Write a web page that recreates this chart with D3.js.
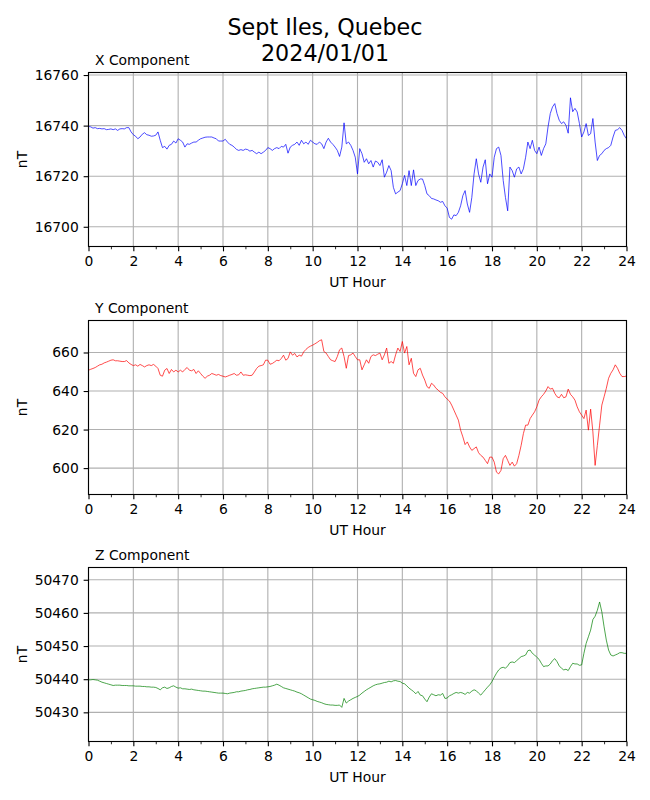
<!DOCTYPE html>
<html>
<head>
<meta charset="utf-8">
<script src="https://cdn.jsdelivr.net/npm/d3@7"></script>
<style>
  html, body { margin: 0; padding: 0; background: #fff; }
  svg { display: block; font-family: "DejaVu Sans", sans-serif; }
</style>
</head>
<body>
<svg id="chart" width="650" height="800"></svg>
<script>
// one sample every 6 minutes, 0..24 UT
const HOURS = d3.range(241).map(i => i / 10);

const X_VALUES = [
  16739.7, 16739.5, 16739.0, 16739.2, 16738.8, 16738.9, 16738.7, 16738.8, 16738.4, 16738.5,
  16738.7, 16738.4, 16738.7, 16738.1, 16738.7, 16738.8, 16738.7, 16739.2, 16739.2, 16737.5,
  16736.4, 16735.8, 16734.8, 16735.5, 16736.6, 16737.2, 16736.4, 16736.2, 16735.8, 16735.9,
  16736.2, 16737.5, 16734.2, 16731.3, 16731.8, 16730.7, 16732.2, 16732.6, 16733.9, 16733.1,
  16734.8, 16734.2, 16733.5, 16731.5, 16732.8, 16732.6, 16733.1, 16733.5, 16733.5, 16734.2,
  16734.8, 16735.1, 16735.4, 16735.5, 16735.5, 16735.5, 16735.1, 16734.8, 16733.9, 16733.9,
  16733.9, 16734.6, 16733.5, 16732.6, 16732.2, 16731.5, 16730.6, 16730.2, 16730.5, 16730.2,
  16730.7, 16730.5, 16729.9, 16730.2, 16729.5, 16728.9, 16729.5, 16728.9, 16729.5, 16730.2,
  16731.3, 16730.9, 16730.2, 16730.9, 16731.3, 16730.9, 16731.8, 16731.5, 16732.6, 16729.1,
  16731.5, 16732.2, 16732.6, 16733.5, 16732.2, 16734.2, 16732.8, 16733.5, 16732.6, 16734.2,
  16733.5, 16732.8, 16732.6, 16733.5, 16732.8, 16730.9, 16733.5, 16735.0, 16733.5, 16732.6,
  16731.5, 16730.2, 16727.8, 16731.5, 16741.1, 16732.8, 16733.5, 16732.2, 16730.2, 16727.5,
  16720.9, 16730.9, 16728.9, 16725.5, 16726.9, 16724.9, 16726.2, 16723.6, 16726.0, 16725.5,
  16724.2, 16726.5, 16719.6, 16721.6, 16724.2, 16722.2, 16715.6, 16713.0, 16713.7, 16714.3,
  16717.0, 16720.3, 16716.3, 16722.2, 16716.3, 16722.5, 16716.3, 16718.3, 16718.9, 16718.9,
  16716.3, 16713.0, 16712.3, 16711.2, 16711.0, 16710.6, 16710.3, 16709.7, 16710.0, 16708.3,
  16707.4, 16703.7, 16703.0, 16704.7, 16704.4, 16705.7, 16708.3, 16712.3, 16714.3, 16709.0,
  16705.7, 16711.6, 16720.9, 16726.9, 16720.9, 16717.6, 16723.6, 16726.5, 16717.0, 16720.9,
  16719.6, 16727.5, 16730.9, 16731.5, 16728.2, 16718.3, 16711.6, 16706.3, 16723.6, 16722.2,
  16719.6, 16722.9, 16723.6, 16720.9, 16722.9, 16727.5, 16733.5, 16730.9, 16734.2, 16730.2,
  16728.9, 16731.5, 16728.2, 16730.9, 16732.8, 16739.5, 16744.8, 16747.4, 16748.7, 16744.8,
  16742.1, 16740.8, 16741.5, 16740.1, 16737.0, 16751.0, 16745.5, 16746.8, 16745.4, 16740.8,
  16735.5, 16737.5, 16740.8, 16736.1, 16736.8, 16742.8, 16733.5, 16726.2, 16728.2, 16728.9,
  16730.2, 16730.9, 16731.3, 16732.2, 16735.5, 16738.1, 16738.4, 16739.2, 16738.1, 16736.1,
  16734.8
];

const Y_VALUES = [
  650.8, 651.3, 651.7, 652.2, 652.9, 653.6, 653.9, 654.6, 655.0, 655.5,
  656.0, 656.2, 655.7, 655.7, 655.5, 655.3, 655.3, 655.8, 654.6, 653.8,
  653.2, 653.6, 652.9, 653.8, 653.2, 652.5, 653.2, 653.6, 653.2, 653.8,
  652.9, 651.7, 648.2, 647.7, 650.8, 651.7, 649.1, 651.2, 649.9, 650.8,
  649.9, 650.8, 649.9, 651.2, 652.2, 650.8, 650.5, 651.2, 649.1, 650.5,
  649.1, 647.7, 646.6, 647.7, 648.2, 649.1, 648.7, 648.2, 648.6, 648.0,
  647.7, 647.3, 647.7, 648.2, 648.6, 649.1, 648.2, 648.4, 649.9, 648.2,
  648.4, 648.2, 648.0, 648.2, 649.9, 651.7, 652.9, 653.2, 653.6, 656.0,
  656.0, 653.9, 654.3, 655.1, 656.0, 655.7, 656.9, 658.6, 656.0, 656.9,
  660.3, 658.6, 659.5, 657.7, 658.6, 658.1, 660.3, 661.6, 662.6, 663.3,
  663.8, 664.5, 665.2, 666.1, 666.6, 660.5, 659.7, 657.9, 656.2, 655.7,
  655.3, 657.9, 661.4, 662.3, 657.9, 651.8, 658.4, 658.8, 659.7, 657.9,
  656.2, 656.2, 651.0, 653.6, 656.2, 654.4, 657.9, 658.8, 658.4, 659.1,
  659.7, 656.2, 658.8, 662.3, 654.4, 655.3, 654.4, 658.8, 662.3, 660.5,
  665.7, 659.7, 663.1, 653.6, 657.0, 649.2, 647.5, 651.0, 651.8, 648.3,
  645.7, 642.3, 641.4, 644.0, 643.1, 641.4, 640.5, 639.3, 638.8, 637.0,
  635.8, 634.8, 632.7, 630.1, 627.5, 624.9, 619.7, 616.2, 612.2, 613.6,
  611.0, 609.2, 610.1, 611.0, 608.0, 606.6, 605.7, 604.0, 602.3, 605.7,
  605.7, 603.1, 597.9, 597.0, 598.8, 604.9, 606.6, 604.0, 601.4, 603.1,
  601.0, 602.3, 606.6, 611.8, 617.9, 622.3, 622.3, 625.7, 627.5, 629.2,
  631.8, 635.3, 637.0, 638.3, 640.0, 642.3, 641.0, 641.4, 638.8, 637.0,
  636.5, 638.3, 636.5, 637.0, 641.0, 638.3, 637.0, 635.3, 631.8, 629.2,
  627.5, 625.7, 630.1, 619.7, 630.6, 618.8, 601.4, 611.8, 622.3, 632.7,
  637.0, 641.4, 646.6, 649.2, 651.0, 653.6, 651.8, 649.2, 647.5, 647.5,
  647.8
];

const Z_VALUES = [
  50439.8, 50439.8, 50439.9, 50439.8, 50439.7, 50439.4, 50439.1, 50438.9, 50438.7, 50438.5,
  50438.3, 50438.1, 50438.2, 50438.2, 50438.2, 50438.1, 50438.1, 50438.1, 50438.0, 50438.0,
  50438.0, 50437.9, 50437.9, 50437.9, 50437.8, 50437.8, 50437.7, 50437.7, 50437.6, 50437.6,
  50437.5, 50437.2, 50436.8, 50437.4, 50437.6, 50437.2, 50437.4, 50437.8, 50438.0, 50437.6,
  50437.3, 50437.4, 50437.1, 50437.1, 50437.0, 50436.9, 50437.0, 50436.8, 50436.7, 50436.6,
  50436.5, 50436.4, 50436.4, 50436.3, 50436.2, 50436.1, 50436.0, 50435.9, 50435.8, 50435.8,
  50435.8, 50435.7, 50435.6, 50435.8, 50435.9, 50436.0, 50436.2, 50436.2, 50436.4, 50436.5,
  50436.6, 50436.8, 50436.9, 50437.1, 50437.2, 50437.3, 50437.4, 50437.5, 50437.6, 50437.6,
  50437.7, 50437.8, 50438.0, 50438.2, 50438.5, 50438.2, 50437.8, 50437.4, 50437.2, 50437.0,
  50436.8, 50436.6, 50436.4, 50436.1, 50435.9, 50435.6, 50435.2, 50434.8, 50434.4, 50434.0,
  50433.8, 50433.6, 50433.3, 50433.1, 50432.9, 50432.6, 50432.4, 50432.3, 50432.2, 50432.2,
  50432.1, 50432.1, 50432.2, 50431.5, 50434.2, 50432.8, 50433.4, 50433.8, 50434.2, 50434.5,
  50434.8, 50435.2, 50435.8, 50436.3, 50436.8, 50437.2, 50437.6, 50438.0, 50438.3, 50438.5,
  50438.6, 50438.8, 50439.0, 50439.1, 50439.4, 50439.2, 50439.5, 50439.6, 50439.4, 50439.3,
  50438.8, 50438.6, 50438.0, 50437.3, 50436.8, 50436.3, 50435.6, 50436.3, 50435.2, 50435.0,
  50434.0, 50433.2, 50434.6, 50435.6, 50435.3, 50435.0, 50435.3, 50435.2, 50435.7, 50434.2,
  50434.3, 50435.0, 50435.3, 50435.7, 50436.0, 50435.8, 50436.0, 50435.8, 50435.4, 50436.0,
  50435.8, 50436.4, 50436.8, 50436.5, 50435.8, 50435.2, 50436.0, 50436.8, 50437.6, 50438.3,
  50439.3, 50440.6, 50441.8, 50442.8, 50443.4, 50443.6, 50443.3, 50444.0, 50445.0, 50445.2,
  50445.0, 50445.6, 50446.2, 50446.8, 50447.0, 50447.3, 50448.6, 50448.8, 50447.8, 50447.3,
  50446.6, 50446.0, 50444.8, 50443.8, 50444.0, 50444.0, 50444.6, 50445.6, 50446.2, 50445.3,
  50444.0, 50443.3, 50442.8, 50443.0, 50442.6, 50443.8, 50444.8, 50444.6, 50444.6, 50444.2,
  50444.3, 50447.8, 50450.8, 50452.8, 50454.8, 50458.0, 50459.0, 50460.8, 50463.3, 50460.3,
  50455.8, 50451.8, 50448.8, 50447.3, 50447.0, 50447.3, 50447.6, 50448.0, 50448.0, 50447.8,
  50447.8
];

// axis limits and tick labels
const X_LIMITS = [16692.2, 16761.0];
const Y_LIMITS = [586.3, 676.6];
const Z_LIMITS = [50421.2, 50473.7];

const X_TICKS = [16700, 16720, 16740, 16760];
const Y_TICKS = [600, 620, 640, 660];
const Z_TICKS = [50430, 50440, 50450, 50460, 50470];

const HOUR_TICKS = [0, 2, 4, 6, 8, 10, 12, 14, 16, 18, 20, 22, 24];
const HOUR_MINOR = [1, 3, 5, 7, 9, 11, 13, 15, 17, 19, 21, 23];

const TITLE_LINES = ["Sept Iles, Quebec", "2024/01/01"];

(() => {
  const svg = d3.select("#chart");

  const left = 88.5;
  const right = 626.5;
  const panelH = 174;
  const PT = 100 / 72;          // figure drawn at 100 dpi

  const panels = [
    { title: "X Component", top: 72.5,  values: X_VALUES, limits: X_LIMITS, ticks: X_TICKS, color: "#0000ff" },
    { title: "Y Component", top: 320.5, values: Y_VALUES, limits: Y_LIMITS, ticks: Y_TICKS, color: "#ff0000" },
    { title: "Z Component", top: 567.5, values: Z_VALUES, limits: Z_LIMITS, ticks: Z_TICKS, color: "#008000" }
  ];

  /* ---------- TITLE ---------- */

  svg.append("g")
    .selectAll("text")
    .data(TITLE_LINES)
    .join("text")
    .attr("x", 325)
    .attr("y", (d, i) => 34.5 + i * 26.5)
    .attr("text-anchor", "middle")
    .attr("fill", "#000")
    .style("font-size", `${16 * PT}px`)
    .text(d => d);

  /* ---------- PANELS ---------- */

  function drawPanel(p) {
    const w = right - left;
    const g = svg.append("g")
      .attr("transform", `translate(${left},${p.top})`);

    const x = d3.scaleLinear().domain([0, 24]).range([0, w]);
    const y = d3.scaleLinear().domain(p.limits).range([panelH, 0]);

    // grid
    g.append("g")
      .selectAll("line")
      .data(HOUR_TICKS)
      .join("line")
      .attr("x1", d => x(d)).attr("x2", d => x(d))
      .attr("y1", 0).attr("y2", panelH)
      .attr("stroke", "#b0b0b0")
      .attr("stroke-width", 0.8 * PT);

    g.append("g")
      .selectAll("line")
      .data(p.ticks)
      .join("line")
      .attr("x1", 0).attr("x2", w)
      .attr("y1", d => y(d)).attr("y2", d => y(d))
      .attr("stroke", "#b0b0b0")
      .attr("stroke-width", 0.8 * PT);

    // trace
    const line = d3.line()
      .x((d, i) => x(HOURS[i]))
      .y(d => y(d));

    g.append("path")
      .datum(p.values)
      .attr("d", line)
      .attr("fill", "none")
      .attr("stroke", p.color)
      .attr("stroke-width", 0.7)
      .attr("stroke-linejoin", "round");

    /* ---------- AXES ---------- */
    g.append("g")
      .attr("transform", `translate(0,${panelH})`)
      .call(
        d3.axisBottom(x)
          .tickValues(HOUR_MINOR)
          .tickSize(2 * PT)
          .tickSizeOuter(0)
          .tickFormat("")
      )
      .call(a => a.select(".domain").remove())
      .call(a => a.selectAll("line").attr("stroke-width", 0.6 * PT));

    g.append("g")
      .attr("transform", `translate(0,${panelH})`)
      .call(
        d3.axisBottom(x)
          .tickValues(HOUR_TICKS)
          .tickSize(3.5 * PT)
          .tickPadding(3.5 * PT)
          .tickSizeOuter(0)
          .tickFormat(d3.format("d"))
      )
      .call(a => a.select(".domain").remove())
      .call(a => a.selectAll("line").attr("stroke-width", 0.8 * PT))
      .call(a => a.selectAll("text")
        .style("font-size", `${10 * PT}px`)
        .style("font-family", "DejaVu Sans"));

    g.append("g")
      .call(
        d3.axisLeft(y)
          .tickValues(p.ticks)
          .tickSize(3.5 * PT)
          .tickPadding(3.5 * PT)
          .tickSizeOuter(0)
          .tickFormat(d3.format("d"))
      )
      .call(a => a.select(".domain").remove())
      .call(a => a.selectAll("line").attr("stroke-width", 0.8 * PT))
      .call(a => a.selectAll("text")
        .style("font-size", `${10 * PT}px`)
        .style("font-family", "DejaVu Sans"));

    // spines
    g.append("rect")
      .attr("width", w)
      .attr("height", panelH)
      .attr("fill", "none")
      .attr("stroke", "#000")
      .attr("stroke-width", 0.8 * PT);

    // labels
    g.append("text")
      .attr("x", 6.5)
      .attr("y", -8)
      .attr("fill", "#000")
      .style("font-size", `${10 * PT}px`)
      .text(p.title);

    g.append("text")
      .attr("x", w / 2)
      .attr("y", panelH + 40.5)
      .attr("text-anchor", "middle")
      .attr("fill", "#000")
      .style("font-size", `${10 * PT}px`)
      .text("UT Hour");

    g.append("text")
      .attr("transform", `translate(${26.5 - left},${panelH / 2}) rotate(-90)`)
      .attr("text-anchor", "middle")
      .attr("fill", "#000")
      .style("font-size", `${10 * PT}px`)
      .text("nT");
  }

  panels.forEach(drawPanel);
})();
</script>
</body>
</html>
